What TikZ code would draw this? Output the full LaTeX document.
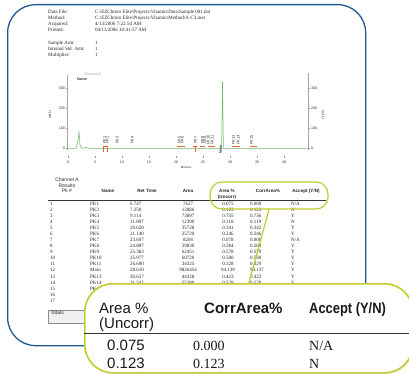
\documentclass[tikz,border=0pt]{standalone}
\usepackage{fontspec}
\setmainfont{Liberation Serif}
\setsansfont{Liberation Sans}
\usepackage{graphicx}
\usetikzlibrary{positioning, shadows}
\definecolor{frameblue}{HTML}{1D5A96}
\definecolor{calloutgreen}{HTML}{C2CC2F}
\definecolor{tracegreen}{HTML}{6DB86D}
\definecolor{integ}{HTML}{E8643C}
\newcommand{\pathsep}{\textbackslash}
\tikzset{pageframe/.style={draw=frameblue, line width=1.3pt, rounded corners=28pt, inner sep=0pt},
    rpt/.style={font=\fontsize{5}{6}\selectfont, text=black!85, inner sep=0pt, anchor=base west},
    rptc/.style={rpt, anchor=base},
    colhead/.style={font=\sffamily\bfseries\fontsize{4.6}{5}\selectfont, text=black!85, inner sep=0pt, anchor=base},
    chanhead/.style={font=\sffamily\fontsize{5}{6}\selectfont, text=black!85, inner sep=0pt, anchor=base},
    axlbl/.style={font=\sffamily\fontsize{3.6}{4}\selectfont, text=black!80, inner sep=0pt},
    pklabel/.style={font=\sffamily\fontsize{4}{4}\selectfont, text=black!75, rotate=90, inner sep=0pt},
    trace/.style={draw=tracegreen, line width=0.5pt},
    integline/.style={draw=integ, line width=0.7pt},
    smallcall/.style={draw=calloutgreen, line width=1.2pt, rounded corners=12pt, inner sep=0pt},
    bigcall/.style={draw=calloutgreen, fill=white, line width=1.6pt, rounded corners=28pt, inner sep=0pt,
        drop shadow={opacity=0.2, shadow xshift=0.8pt, shadow yshift=-1.2pt}},
    calltext/.style={font=\sffamily\fontsize{15}{16}\selectfont, text=black!90, inner sep=0pt, anchor=base west},
    callbold/.style={calltext, font=\sffamily\bfseries\fontsize{15}{16}\selectfont},
    callnum/.style={font=\fontsize{14}{15}\selectfont, text=black!90, inner sep=0pt, anchor=base west},
}

\begin{document}
\begin{tikzpicture}[x=1pt,y=-1pt]
    \useasboundingbox[fill=white] (0,0) rectangle (409,374);
    \node[pageframe, minimum width=358, minimum height=341, anchor=north west] (page) at (7,4) {};

    % report header
    \node[rpt] (dfile) at (48,14) {Data File:};
    \node[rpt] (meth) at (48,20) {Method:};
    \node[rpt] (acq) at (48,26) {Acquired:};
    \node[rpt] (prnt) at (48,32) {Printed:};
    \node[rpt] (dfilev) at (95,14) {C:\pathsep EZChrom Elite\pathsep Projects\pathsep Vitamin\pathsep Data\pathsep Sample 001.dat};
    \node[rpt] (methv) at (95,20) {C:\pathsep EZChrom Elite\pathsep Projects\pathsep Vitamin\pathsep Method\pathsep A-C3.met};
    \node[rpt] (acqv) at (95,26) {4/13/2006 7:22:54 AM};
    \node[rpt] (prntv) at (95,32) {04/13/2006 10:41:57 AM};
    \node[rpt] (samt) at (48,44.5) {Sample Amt:};
    \node[rpt] (istd) at (48,50.5) {Internal Std. Amt:};
    \node[rpt] (mult) at (48,56.5) {Multiplier:};
    \node[rpt] (samtv) at (95,44.5) {1};
    \node[rpt] (istdv) at (95,50.5) {1};
    \node[rpt] (multv) at (95,56.5) {1};

    % chromatogram
    \draw[black!35, line width=0.3pt] (67,75) -- (67,150);
    \draw[black!35, line width=0.3pt] (308,73) -- (308,150);
    \foreach \v/\yy in {300/88, 200/108, 100/128, 0/148}{
        \node[axlbl, anchor=east] (yl\v) at (65,\yy) {\v};
        \node[axlbl, anchor=west] (yr\v) at (311,\yy) {\v};
        \draw[black!40, line width=0.3pt] (65.5,\yy) -- (67,\yy);
        \draw[black!40, line width=0.3pt] (308,\yy) -- (309.5,\yy);
    }
    \node[axlbl, rotate=90] (mauL) at (50,115) {mAU};
    \node[axlbl, rotate=-90] (mauR) at (323,115) {mAU};
    \node[axlbl, text=black!35] (chan) at (93,74) {Channel A};
    \node[axlbl, font=\sffamily\bfseries\fontsize{3.6}{4}\selectfont] (nmkey) at (82,79) {Name};
    \foreach \t in {0,5,...,40}{
        \draw[black!40, line width=0.3pt] (68+5.4*\t,156.5) -- (68+5.4*\t,158);
        \node[axlbl] (xt\t) at (68+5.4*\t,162.5) {\t};
    }
    \node[axlbl, font=\sffamily\fontsize{3}{3}\selectfont] (minlbl) at (186,167.5) {Minutes};
    \draw[trace] (68,148.5) -- (76,148.5) -- (78,140) -- (79,132) -- (80,145) -- (82,148.3) -- (86,147.5) -- (90,148.5)
        -- (221.6,148.3) -- (222.5,82) -- (223.4,148.3) -- (308,148.5);
    \foreach \a/\b in {103/108, 177/185, 193/197, 200/205, 208/215, 232/240, 250/257}
        \draw[integline] (\a,146.5) -- (\b,146.5);
    \foreach \a in {103.5, 107, 195.5}
        \draw[integline, line width=0.5pt] (\a,147) -- (\a,152.5);
    \foreach \rt/\nm in {6.747/PK1, 7.259/PK2, 9.114/PK3, 11.897/PK4, 20.620/PK5, 21.140/PK6, 23.607/PK7,
        24.887/PK8, 25.383/PK9, 25.977/PK10, 26.690/PK11, 30.657/PK13, 31.542/PK14, 34.0/PK15}
        \node[pklabel] (lbl\nm) at (68+5.4*\rt,140) {\nm};
    \node[pklabel, font=\sffamily\bfseries\fontsize{3.6}{4}\selectfont] (lblmain) at (220.5,149.5) {Main};

    % results table
    \node[chanhead] (tch) at (67,181) {Channel A};
    \node[chanhead] (tres) at (67,187) {Results};
    \node[chanhead] (tpk) at (67,193) {Pk \#};
    \node[colhead] (hname) at (108,193) {Name};
    \node[colhead] (hret) at (147,193) {Ret Time};
    \node[colhead] (harea) at (188,193) {Area};
    \node[colhead] (hpct) at (227,192.5) {Area \%};
    \node[colhead] (hunc) at (227,198.5) {(Uncorr)};
    \node[colhead] (hcorr) at (268,193) {CorrArea\%};
    \node[colhead] (hacc) at (306,193) {Accept (Y/N)};
    \draw[black!80, line width=0.6pt] (48,200.5) -- (326,200.5);
    \foreach \pk/\nm/\rt/\ar/\ap/\ca/\ok in {1/PK1/6.747/7627/0.075/0.000/{N/A}, 2/PK2/7.259/12886/0.123/0.123/N,
        3/PK3/9.114/73897/0.735/0.736/Y, 4/PK4/11.897/12390/0.118/0.119/N, 5/PK5/20.620/35728/0.341/0.342/Y,
        6/PK6/21.140/25720/0.246/0.246/Y, 7/PK7/23.607/8206/0.078/0.000/{N/A}, 8/PK8/24.887/29830/0.284/0.284/Y,
        9/PK9/25.383/62451/0.578/0.579/Y, 10/PK10/25.977/60720/0.580/0.580/Y, 11/PK11/26.690/34325/0.328/0.329/Y,
        12/Main/28.610/9826454/94.139/94.137/Y, 13/PK13/30.657/44328/0.423/0.423/Y, 14/PK14/31.542/55380/0.529/0.529/Y}{
        \pgfmathsetmacro{\yy}{205+(\pk-1)*6.09}
        \node[rpt] (pk\pk) at (50,\yy) {\pk};
        \node[rpt] (nm\pk) at (90,\yy) {\nm};
        \node[rpt] (rt\pk) at (130,\yy) {\rt};
        \node[rptc] (ar\pk) at (188,\yy) {\ar};
        \node[rptc] (ap\pk) at (228,\yy) {\ap};
        \node[rpt] (ca\pk) at (250,\yy) {\ca};
        \node[rpt] (ok\pk) at (291,\yy) {\ok};
    }
    \foreach \pk in {15,16,17}{
        \pgfmathsetmacro{\yy}{205+(\pk-1)*6.09}
        \node[rpt] (pk\pk) at (50,\yy) {\pk};
    }
    \node[rpt] (nm15) at (90,290.3) {PK15};
    \node[draw=black!45, fill=black!6, line width=0.5pt, minimum width=70, minimum height=13, inner sep=0pt, anchor=north west] (tot) at (47.5,309.5) {};
    \node[chanhead, anchor=base west] (totl) at (50.5,314.5) {Totals};

    % callouts
    \node[smallcall, minimum width=118, minimum height=27] (hl) at (269,195.5) {};
    \node[bigcall, minimum width=328, minimum height=89, anchor=north west] (zoom) at (84,283) {};
    \draw[calloutgreen, line width=1.2pt] (hl.south) -- (zoom.north);
    \node[calltext] (zpct) at (99,313) {Area \%};
    \node[calltext] (zunc) at (99,328.5) {(Uncorr)};
    \node[callbold] (zcorr) at (204,313) {CorrArea\%};
    \node[callbold] (zacc) at (309,313) {\scalebox{0.86}[1]{Accept (Y/N)}};
    \coordinate (rl) at (84,333.5);
    \coordinate (rr) at (412,333.5);
    \draw[black!80, line width=1.5pt] (rl) -- (rr);
    \node[calltext] (za1) at (107,350.5) {0.075};
    \node[callnum] (zc1) at (193,350.5) {0.000};
    \node[callnum] (zk1) at (309,350.5) {N/A};
    \node[calltext] (za2) at (107,368) {0.123};
    \node[callnum] (zc2) at (193,368) {0.123};
    \node[callnum] (zk2) at (309,368) {N};
\end{tikzpicture}
\end{document}
